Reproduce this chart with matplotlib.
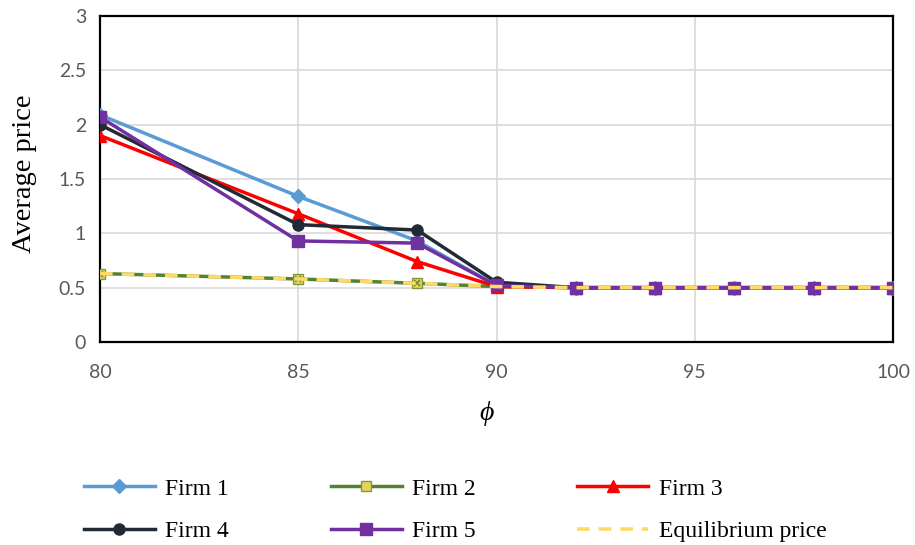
import matplotlib
matplotlib.use("Agg")
import matplotlib.pyplot as plt

# data
phi = [80, 85, 88, 90, 92, 94, 96, 98, 100]
firm1 = [2.09, 1.34, 0.93, 0.52, 0.5, 0.5, 0.5, 0.5, 0.5]
firm2 = [0.63, 0.58, 0.54, 0.51, 0.5, 0.5, 0.5, 0.5, 0.5]
firm3 = [1.90, 1.18, 0.74, 0.51, 0.5, 0.5, 0.5, 0.5, 0.5]
firm4 = [2.00, 1.08, 1.03, 0.55, 0.5, 0.5, 0.5, 0.5, 0.5]
firm5 = [2.07, 0.93, 0.91, 0.52, 0.5, 0.5, 0.5, 0.5, 0.5]
equilibrium = [0.63, 0.58, 0.54, 0.51, 0.5, 0.5, 0.5, 0.5, 0.5]

xticks = [80, 85, 90, 95, 100]
yticks = [0, 0.5, 1, 1.5, 2, 2.5, 3]
ytick_labels = ["0", "0.5", "1", "1.5", "2", "2.5", "3"]

serif = ["Liberation Serif", "DejaVu Serif"]

fig = plt.figure(figsize=(9.15, 5.45), dpi=100)
ax = fig.add_axes([100 / 915, 1 - 342 / 545, 793 / 915, 326 / 545])

lw = 2.5
l1, = ax.plot(phi, firm1, color="#5B9BD5", lw=lw, marker="D", ms=7,
              label="Firm 1", zorder=3)
l2, = ax.plot(phi, firm2, color="#548235", lw=lw, marker="s", ms=7,
              mfc="#E6D25C", mec="#7E9A3E", label="Firm 2", zorder=3)
ax.plot(phi, firm2, ls="none", marker="x", ms=5, mew=1.2, color="#6E8F33", zorder=3)
l3, = ax.plot(phi, firm3, color="#FF0000", lw=lw, marker="^", ms=8,
              label="Firm 3", zorder=3)
l4, = ax.plot(phi, firm4, color="#222A35", lw=lw, marker="o", ms=8,
              label="Firm 4", zorder=3)
l5, = ax.plot(phi, firm5, color="#7030A0", lw=lw, marker="s", ms=8,
              label="Firm 5", zorder=3)
l6, = ax.plot(phi, equilibrium, color="#FFD966", lw=2.6, ls=(0, (3.5, 2.5)),
              label="Equilibrium price", zorder=4)

ax.set_xlim(80, 100)
ax.set_ylim(0, 3)
ax.set_xticks(xticks)
ax.set_yticks(yticks)
ax.set_yticklabels(ytick_labels)
ax.grid(True, color="#D9D9D9", lw=1.2)
ax.set_axisbelow(True)
ax.tick_params(length=0, labelsize=14, labelcolor="#595959")
ax.tick_params(axis="x", pad=16)
ax.tick_params(axis="y", pad=10)
for lab in ax.get_xticklabels() + ax.get_yticklabels():
    lab.set_family(["Lato", "DejaVu Sans"])
for s in ax.spines.values():
    s.set_color("black")
    s.set_linewidth(1.6)

ax.set_ylabel("Average price", family=serif, fontsize=20.5, va="center")
ax.yaxis.set_label_coords(-75 / 793, 0.515)
fig.text(487 / 915, 1 - 414 / 545, "ϕ", family=serif, style="italic",
         fontsize=20, ha="center", va="center")

handles = [l1, l4, l2, l5, l3, l6]
leg = fig.legend(handles=handles, labels=[h.get_label() for h in handles],
                 ncol=3, frameon=False, loc="upper left",
                 bbox_to_anchor=(84 / 915, 1 - 478 / 545),
                 prop={"family": serif, "size": 17},
                 handlelength=3.0, handletextpad=0.45, columnspacing=4.3,
                 labelspacing=0.9, borderpad=0, borderaxespad=0)

fig.savefig("out.png", dpi=100)
